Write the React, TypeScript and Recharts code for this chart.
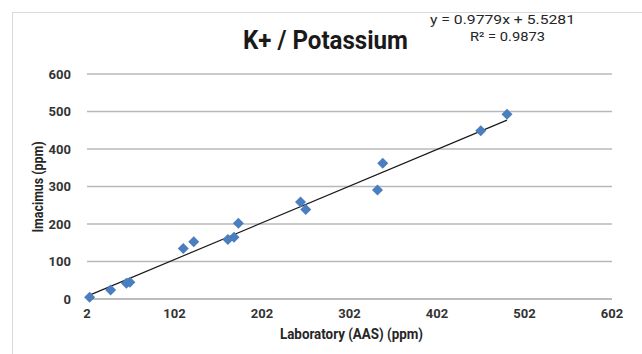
import React from 'react';
import { ScatterChart, Scatter, XAxis, YAxis, CartesianGrid } from 'recharts';

// Laboratory (AAS) values vs Imacimus values, ppm
const labValues = [5, 29, 47, 51, 112, 124, 163, 170, 175, 246, 252, 334, 340, 452, 482];
const imacimusValues = [5, 24, 42, 45, 135, 153, 159, 165, 202, 259, 239, 291, 362, 449, 493];

const slope = 0.9779;
const intercept = 5.5281;
const xTicks = [2, 102, 202, 302, 402, 502, 602];
const yTicks = [0, 100, 200, 300, 400, 500, 600];

const points = labValues.map((x, i) => ({ x, y: imacimusValues[i] }));
const xMin = Math.min(...labValues);
const xMax = Math.max(...labValues);
const trend = [xMin, xMax].map(x => ({ x, y: slope * x + intercept }));

const FONT = 'Roboto, "Liberation Sans", sans-serif';

const Diamond = (props: any) => {
  const { cx, cy } = props;
  const r = 5.5;
  return (
    <polygon
      points={`${cx},${cy - r} ${cx + r},${cy} ${cx},${cy + r} ${cx - r},${cy}`}
      fill="#4a7ebf"
    />
  );
};

const tickStyle = { fill: '#333', fontSize: 13, fontWeight: 700, fontFamily: FONT };

export default function App() {
  return (
    <div style={{ position: 'absolute', left: 0, top: 0, width: 642, height: 354, background: '#fff', overflow: 'hidden' }}>
      <div
        style={{
          position: 'absolute', left: 12, top: 12, width: 700, height: 400,
          borderTop: '1px solid #d9d9d9', borderLeft: '1px solid #d9d9d9',
        }}
      />
      <ScatterChart width={642} height={354} margin={{ top: 74, right: 30, bottom: 25, left: 47 }}>
        <CartesianGrid horizontal vertical={false} stroke="#b8b8b8" strokeWidth={1.5} />
        <XAxis
          type="number"
          dataKey="x"
          domain={[2, 602]}
          ticks={xTicks}
          interval={0}
          height={30}
          tickSize={0}
          tickMargin={10}
          axisLine={{ stroke: '#b8b8b8', strokeWidth: 1.5 }}
          tick={tickStyle}
        />
        <YAxis
          type="number"
          dataKey="y"
          domain={[0, 600]}
          ticks={yTicks}
          interval={0}
          width={40}
          tickSize={0}
          tickMargin={16}
          axisLine={false}
          tick={tickStyle}
        />
        <Scatter
          data={trend}
          line={{ stroke: '#1a1a1a', strokeWidth: 1.2 }}
          shape={() => <g />}
          isAnimationActive={false}
        />
        <Scatter data={points} shape={<Diamond />} isAnimationActive={false} />
      </ScatterChart>
      <svg style={{ position: 'absolute', left: 0, top: 0 }} width={642} height={354}>
        <text x={243} y={49} fontFamily={FONT} fontWeight={700} fontSize={25} fill="#1a1a1a" textLength={165} lengthAdjust="spacingAndGlyphs">
          K+ / Potassium
        </text>
        <text x={430} y={24} fontFamily={FONT} fontSize={13} fill="#262626" textLength={145} lengthAdjust="spacingAndGlyphs">
          y = 0.9779x + 5.5281
        </text>
        <text x={470} y={41} fontFamily={FONT} fontSize={13} fill="#262626" textLength={75} lengthAdjust="spacingAndGlyphs">
          R² = 0.9873
        </text>
        <text x={280} y={339} fontFamily={FONT} fontWeight={700} fontSize={14} fill="#262626" textLength={143} lengthAdjust="spacingAndGlyphs">
          Laboratory (AAS) (ppm)
        </text>
        <text
          x={0}
          y={0}
          transform="translate(43,187) rotate(-90)"
          textAnchor="middle"
          fontFamily={FONT}
          fontWeight={700}
          fontSize={14}
          fill="#262626"
          textLength={91}
          lengthAdjust="spacingAndGlyphs"
        >
          Imacimus (ppm)
        </text>
      </svg>
    </div>
  );
}
